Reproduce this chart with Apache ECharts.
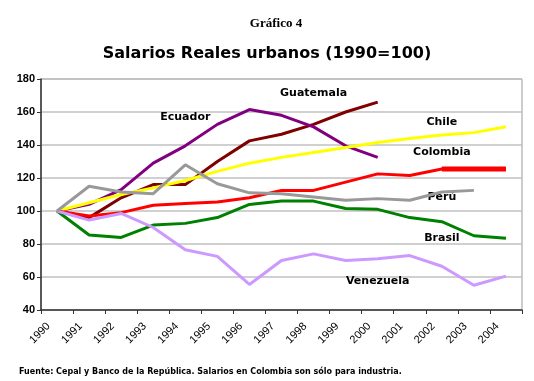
<!DOCTYPE html>
<html>
<head>
<meta charset="utf-8">
<script src="https://cdn.jsdelivr.net/npm/echarts@6/dist/echarts.min.js"></script>
<style>
  html, body { margin: 0; padding: 0; background: #fff; }
  #chart-container { width: 534px; height: 381px; }
</style>
</head>
<body>
<div id="chart-container"></div>
<script>
var dom = document.getElementById("chart-container");
var myChart = echarts.init(dom, null, { renderer: "canvas" });

var years = ["1990", "1991", "1992", "1993", "1994", "1995", "1996", "1997",
  "1998", "1999", "2000", "2001", "2002", "2003", "2004"];

var guatemala = [100, 96, 108, 116, 116, 130, 142.5, 146.5, 152.5, 160, 166, null, null, null, null];
var ecuador = [100, 104, 113, 129, 139.5, 152.5, 161.5, 158, 151, 139.5, 132.5, null, null, null, null];
var chile = [100, 105, 110, 114, 118.5, 124, 129, 132.5, 135.5, 138.5, 141.5, 144, 146, 147.5, 151];
var colombia = [100, 97, 99, 103.5, 104.5, 105.5, 108, 112.5, 112.5, 117.5, 122.5, 121.5, 125.5, 125.5, 125.5];
var peru = [100, 115, 111.5, 110.5, 128, 116.5, 111, 110.5, 108.5, 106.5, 107.5, 106.5, 111.5, 112.5, null];
var brasil = [100, 85.5, 84, 91.5, 92.5, 96, 104, 106, 106, 101.5, 101, 96, 93.5, 85, 83.5];
var venezuela = [100, 94.5, 98.5, 90, 76.5, 72.5, 55.5, 70, 74, 70, 71, 73, 66.5, 55, 60.5];

// series names written inside the plot: [text, category index, value]
var seriesTags = [
  ["Guatemala", 8.03, 171.5],
  ["Ecuador", 3.72, 157],
  ["Chile", 11.81, 153.8],
  ["Colombia", 12.34, 135.6],
  ["Perú", 12.38, 108.2],
  ["Brasil", 11.72, 83.8],
  ["Venezuela", 10.22, 57.7],
];

function line(name, data, color) {
  return {
    name: name,
    type: "line",
    data: data,
    symbol: "none",
    lineStyle: { color: color, width: 3 },
    itemStyle: { color: color },
    z: 2,
  };
}

var option = {
  animation: false,
  backgroundColor: "#fff",
  title: [
    {
      text: "Gráfico 4",
      left: 271,
      top: 12,
      textAlign: "center",
      textStyle: { fontFamily: "Liberation Serif", fontWeight: "bold", fontSize: 13, color: "#000" },
    },
    {
      text: "Salarios Reales urbanos (1990=100)",
      left: 262,
      top: 41,
      textAlign: "center",
      textStyle: { fontFamily: "DejaVu Sans", fontWeight: "bold", fontSize: 16, color: "#000" },
    },
    {
      text: "Fuente: Cepal y Banco de la República. Salarios en Colombia son sólo para industria.",
      left: 14,
      top: 363,
      textStyle: { fontFamily: "DejaVu Sans", fontWeight: "bold", fontSize: 8, color: "#000" },
    },
  ],
  grid: {
    left: 41,
    right: 12,
    top: 79,
    bottom: 71,
    show: true,
    borderColor: "#999",
    borderWidth: 1,
  },
  xAxis: {
    type: "category",
    data: years,
    boundaryGap: true,
    axisLine: { lineStyle: { color: "#333", width: 1.5 } },
    axisTick: { show: true, interval: 0, length: 4, lineStyle: { color: "#333" } },
    axisLabel: {
      interval: 0,
      rotate: 45,
      margin: 6,
      padding: [0, 12, 0, 0],
      fontFamily: "Liberation Sans",
      fontSize: 11,
      color: "#000",
    },
    splitLine: { show: false },
  },
  yAxis: {
    type: "value",
    min: 40,
    max: 180,
    interval: 20,
    axisLine: { show: true, lineStyle: { color: "#333", width: 1.5 } },
    axisTick: { show: true, length: 4, lineStyle: { color: "#333" } },
    axisLabel: {
      margin: 6,
      fontFamily: "Liberation Sans",
      fontWeight: "bold",
      fontSize: 11,
      color: "#000",
    },
    splitLine: { lineStyle: { color: "#c0c0c0", width: 1.5 } },
  },
  series: [
    line("Guatemala", guatemala, "#800000"),
    line("Ecuador", ecuador, "#800080"),
    line("Chile", chile, "#ffff00"),
    line("Colombia", colombia, "#ff0000"),
    // thicker stretch at the end of the Colombia series
    {
      name: "Colombia",
      type: "line",
      data: colombia.map(function (v, i) { return i >= 12 ? v : null; }),
      symbol: "none",
      lineStyle: { color: "#ff0000", width: 5, cap: "butt" },
      z: 2,
    },
    line("Brasil", brasil, "#008000"),
    line("Venezuela", venezuela, "#cc99ff"),
    line("Perú", peru, "#999999"),
  ],
};

myChart.setOption(option);

// place the series names through the chart's own scales
myChart.setOption({
  graphic: seriesTags.map(function (t) {
    var p = myChart.convertToPixel({ gridIndex: 0 }, [t[1], t[2]]);
    return {
      type: "text",
      x: p[0],
      y: p[1],
      silent: true,
      style: {
        text: t[0],
        fill: "#000",
        font: "bold 11px 'DejaVu Sans'",
        align: "center",
        verticalAlign: "middle",
      },
    };
  }),
});

window.addEventListener("resize", function () {
  myChart.resize();
});
</script>
</body>
</html>
